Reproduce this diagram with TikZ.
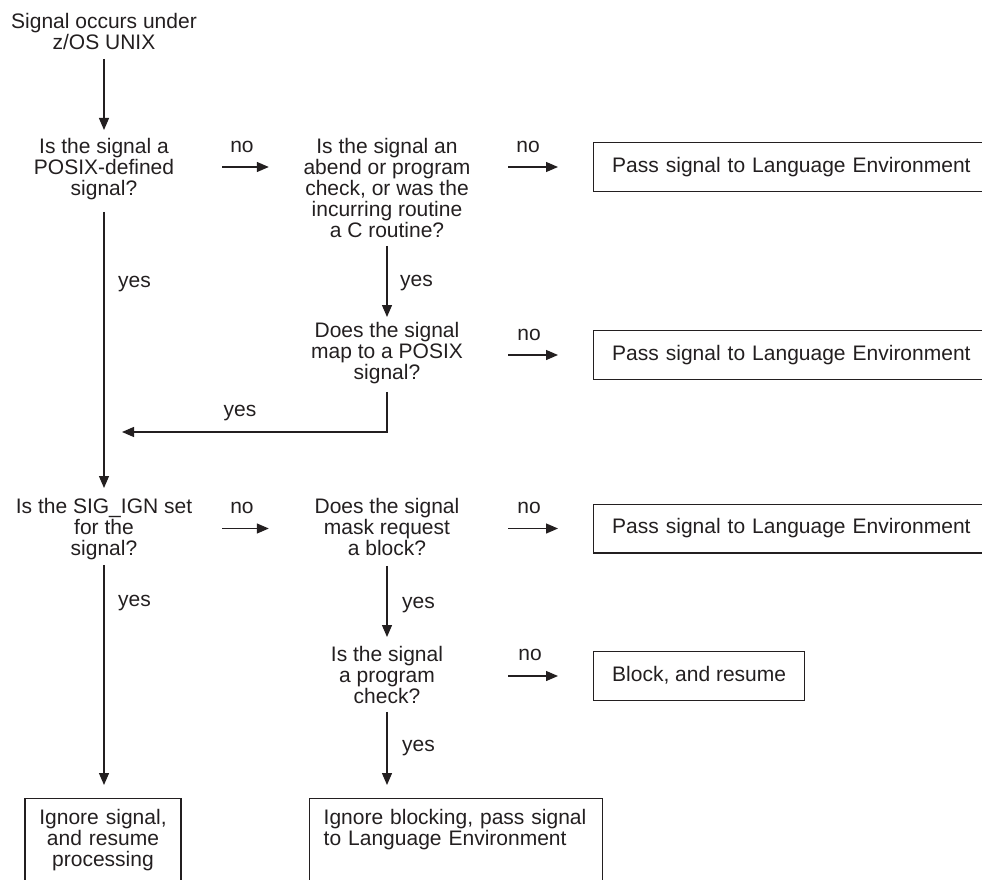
\documentclass[tikz,border=0pt]{standalone}
\usepackage{fontspec}
\setmainfont{Liberation Sans}
\usetikzlibrary{arrows.meta}
\definecolor{ink}{RGB}{35,31,32}

\begin{document}
\begin{tikzpicture}[x=1pt, y=-1pt,
  font=\fontsize{21pt}{21pt}\selectfont, text=ink,
  question/.style={align=center, inner sep=0pt, minimum width=236pt, anchor=north},
  frame/.style={draw=ink, line width=1.4pt},
  box/.style={frame, inner xsep=18.5pt, inner ysep=14.6pt,
    text height=15pt, text depth=4.4pt, anchor=north west},
  widebox/.style={box, text width=380pt, align=left},
  lbl/.style={inner sep=0pt, anchor=base},
  arr/.style={draw=ink, line width=1.3pt, -{Triangle[length=12pt,width=10pt]}}]

  % Page frame
  \useasboundingbox (0,0) rectangle (982,880);

  % Columns
  \def\colA{104}  % left column
  \def\colB{387}  % middle column
  \def\colC{593}  % left edge of the result boxes

  % --- Questions ---
  \node[question] (start) at (\colA,13) {Signal occurs under\\z/OS UNIX};
  \node[question] (q1) at (\colA,138) {Is the signal a\\POSIX-defined\\signal?};
  \node[question] (q2) at (\colB,138)
    {Is the signal an\\abend or program\\check, or was the\\incurring routine\\a C routine?};
  \node[question] (q4) at (\colB,322) {Does the signal\\map to a POSIX\\signal?};
  \node[question] (q3) at (\colA,498) {Is the SIG\_IGN set\\for the\\signal?};
  \node[question] (q5) at (\colB,498) {Does the signal\\mask request\\a block?};
  \node[question] (q6) at (\colB,646) {Is the signal\\a program\\check?};

  % --- Result boxes ---
  \node[widebox] (b1) at (\colC,142) {Pass signal to Language Environment};
  \node[widebox] (b2) at (\colC,330) {Pass signal to Language Environment};
  \node[widebox] (b3) at (\colC,503.5) {Pass signal to Language Environment};
  \node[box] (b4) at (\colC,651) {Block, and resume};
  \node[frame, anchor=north, align=center, text width=132pt,
    inner xsep=12pt, inner ysep=10.5pt, text depth=90pt] (b5) at (103,798)
    {Ignore signal,\\and resume\\processing};
  \node[frame, anchor=north west, align=left, text width=265pt,
    inner xsep=14pt, inner ysep=10.5pt, text depth=90pt] (b6) at (309,798)
    {Ignore blocking, pass signal\\to Language Environment};

  % --- Downward flow ---
  \draw[arr, shorten <=9pt, shorten >=8pt] (start.south) -- (q1.north);
  \draw[arr, shorten <=12pt, shorten >=10pt] (q1.south) -- (q3.north);
  \draw[arr, shorten <=8pt, shorten >=5pt] (q2.south) -- (q4.north);
  \draw[arr, shorten <=5pt, shorten >=13pt] (q3.south) -- (q3.south |- b5.north);
  \draw[arr, shorten <=10pt, shorten >=9pt] (q5.south) -- (q6.north);
  \draw[arr, shorten <=8pt, shorten >=13pt] (q6.south) -- (q6.south |- b6.north);

  % Return path back to the left column
  \coordinate (back) at (122,432);
  \draw[arr, shorten <=8pt] (q4.south) |- (back);

  % --- "no" branches ---
  \draw[arr] (q1.east |- b1.west) -- (q2.west |- b1.west);
  \draw[arr, shorten <=3pt, shorten >=35pt] (q2.east |- b1.west) -- (b1.west);
  \draw[arr, shorten <=3pt, shorten >=35pt] (q4.east |- b2.west) -- (b2.west);
  \draw[arr] (q3.east |- b3.west) -- (q5.west |- b3.west);
  \draw[arr, shorten <=3pt, shorten >=35pt] (q5.east |- b3.west) -- (b3.west);
  \draw[arr, shorten <=3pt, shorten >=35pt] (q6.east |- b4.west) -- (b4.west);

  % --- Labels ---
  \node[lbl] (no1) at (242,153) {no};
  \node[lbl] (no2) at (528,153) {no};
  \node[lbl] (no3) at (529,340) {no};
  \node[lbl] (no4) at (242,513) {no};
  \node[lbl] (no5) at (529,513) {no};
  \node[lbl] (no6) at (530,660) {no};

  \node[lbl, anchor=base west] (yes1) at (118,287) {yes};
  \node[lbl, anchor=base west] (yes2) at (400,286) {yes};
  \node[lbl] (yes3) at (240,416) {yes};
  \node[lbl, anchor=base west] (yes4) at (118,606) {yes};
  \node[lbl, anchor=base west] (yes5) at (402,608) {yes};
  \node[lbl, anchor=base west] (yes6) at (402,751) {yes};
\end{tikzpicture}
\end{document}
